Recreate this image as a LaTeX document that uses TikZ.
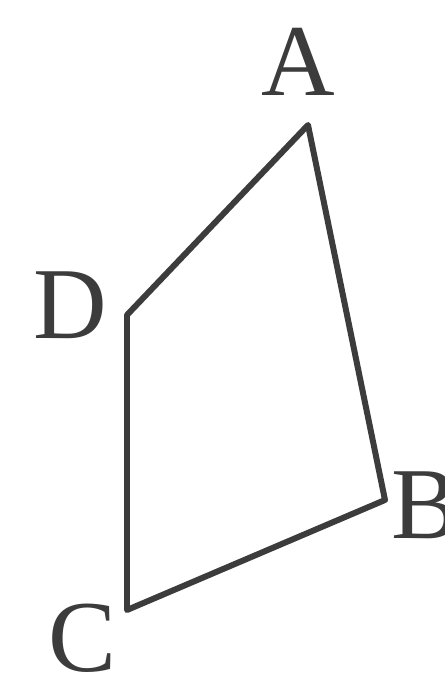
\documentclass[tikz,border=0pt]{standalone}
\usepackage{fontspec}
\setmainfont{Liberation Serif}
\usepackage{xcolor}
\usepackage{tikz}
\usetikzlibrary{positioning}

\definecolor{edgegray}{HTML}{3C3C3C}

\begin{document}
\begin{tikzpicture}[
    side/.style={draw=edgegray, line width=3.4pt, line join=round},
    vlbl/.style={font=\fontsize{58}{62}\selectfont, text=edgegray, inner sep=0pt},
]

% Frame
\useasboundingbox (0,0) rectangle (8.9,13.68);

% --- Vertices ---
\coordinate (A) at (6.16, 11.18);
\coordinate (B) at (7.70, 3.68);
\coordinate (C) at (2.54, 1.48);
\coordinate (D) at (2.54, 7.38);

% Quadrilateral
\draw[side] (A) -- (B) -- (C) -- (D) -- cycle;

% --- Labels ---
\node[vlbl] (lA) at (5.96, 12.44) {A};
\node[vlbl] (lB) at (8.50, 3.58) {B};
\node[vlbl] (lC) at (1.64, 0.92) {C};
\node[vlbl] (lD) at (1.40, 7.58) {D};

\end{tikzpicture}
\end{document}
